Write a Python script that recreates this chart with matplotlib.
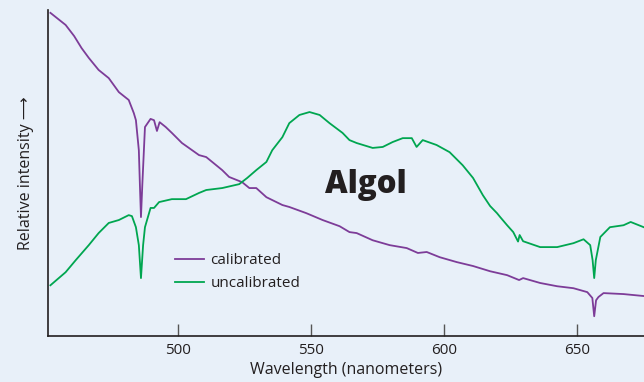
import matplotlib
matplotlib.use("Agg")
import numpy as np
import matplotlib.pyplot as plt

# --- spectrum of Algol (arbitrary intensity units) ---
calib_wl = [452.1, 457.8, 461.0, 463.8, 466.5, 470.2, 474.0, 477.8, 481.5, 483.4,
            484.2, 485.3, 485.7, 486.1, 486.6, 487.6, 489.7, 491.0, 492.1, 493.1,
            495.4, 497.7, 501.5, 504.1, 507.9, 510.6, 516.6, 519.2, 524.1, 526.8,
            529.4, 533.2, 539.2, 541.8, 548.2, 554.3, 560.7, 564.4, 567.1, 573.1,
            579.5, 585.9, 590.1, 593.4, 598.3, 604.7, 610.8, 617.2, 623.6, 628.1,
            629.6, 636.0, 642.4, 648.5, 653.7, 655.6, 656.3, 657.0, 657.9, 659.8,
            667.3, 674.9]
calib_val = [99.1, 95.4, 92.0, 88.3, 85.3, 81.6, 79.1, 74.8, 72.4, 68.4,
             66.2, 57.0, 46.3, 36.5, 46.3, 64.1, 66.6, 66.2, 62.9, 65.6,
             64.1, 62.3, 59.2, 57.7, 55.5, 54.9, 50.9, 48.8, 47.2, 45.4,
             45.4, 42.6, 40.2, 39.6, 37.7, 35.6, 33.7, 31.9, 31.6, 29.4,
             27.9, 27.0, 25.5, 25.8, 24.2, 22.7, 21.5, 19.9, 18.7, 17.2,
             17.8, 16.3, 15.3, 14.7, 13.5, 11.7, 6.1, 11.0, 12.0, 13.2,
             12.9, 12.3]

uncal_wl = [452.1, 457.8, 461.6, 466.5, 470.2, 474.0, 477.8, 481.5, 482.7, 484.2,
            485.3, 486.1, 486.9, 487.6, 489.7, 491.0, 492.9, 497.7, 503.0, 507.9,
            510.6, 516.6, 523.0, 526.0, 529.4, 533.2, 535.4, 539.2, 541.8, 545.6,
            549.4, 553.2, 556.9, 561.8, 564.4, 567.1, 573.1, 576.9, 580.6, 584.4,
            587.8, 589.6, 591.9, 597.1, 602.0, 606.9, 610.8, 614.5, 617.2, 619.8,
            621.0, 623.6, 625.9, 627.7, 628.3, 629.6, 636.0, 642.4, 648.5, 652.3,
            654.8, 655.7, 656.3, 656.9, 658.6, 662.2, 667.3, 670.0, 674.9]
uncal_val = [15.6, 19.6, 23.3, 27.9, 31.6, 34.7, 35.6, 37.1, 36.8, 33.4,
             27.9, 17.8, 27.9, 33.4, 39.3, 39.3, 41.1, 42.0, 42.0, 43.9,
             44.8, 45.4, 46.6, 48.5, 50.9, 53.4, 57.0, 61.0, 65.3, 67.8,
             68.7, 67.8, 65.3, 62.3, 60.1, 59.2, 57.7, 58.0, 59.5, 60.7,
             60.7, 58.0, 60.1, 58.6, 56.4, 52.4, 48.5, 43.2, 39.9, 37.7,
             36.5, 34.0, 31.9, 29.0, 31.0, 29.1, 27.3, 27.3, 28.5, 29.7,
             27.9, 23.3, 17.8, 23.3, 30.4, 33.4, 34.0, 35.0, 33.4]

xticks = [500, 550, 600, 650]

bg = "#e8f0f9"
ink = "#231f20"
purple = "#7d3c98"
green = "#00a650"

plt.rcParams["font.family"] = ["Open Sans", "DejaVu Sans"]

fig = plt.figure(figsize=(6.44, 3.82), dpi=100, facecolor=bg)
ax = fig.add_axes([0.075, 0.12, 0.925, 0.854], facecolor=bg)

ax.plot(calib_wl, calib_val, color=purple, lw=1.3, label="calibrated")
ax.plot(uncal_wl, uncal_val, color=green, lw=1.3, label="uncalibrated")

ax.set_xlim(451.3, 675)
ax.set_ylim(0, 100)
ax.set_xticks(xticks)
ax.set_yticks([])
ax.tick_params(axis="x", direction="in", length=9, width=1.0, color="#555555",
               pad=5, labelsize=11, labelcolor=ink)

for s in ["top", "right"]:
    ax.spines[s].set_visible(False)
for s in ["left", "bottom"]:
    ax.spines[s].set_color(ink)
    ax.spines[s].set_linewidth(1.2)

ax.set_xlabel("Wavelength (nanometers)", fontsize=11.5, color=ink, labelpad=3)
ax.set_ylabel("Relative intensity \u27f6", fontsize=11.5, color=ink, labelpad=10)

ax.text(570.5, 46.3, "Algol", fontsize=22.5, fontweight="heavy", color=ink,
        ha="center", va="center")

ax.legend(loc="upper left", bbox_to_anchor=(0.212, 0.255), frameon=False,
          fontsize=11, handlelength=1.9, handletextpad=0.45, labelspacing=0.55,
          borderpad=0, borderaxespad=0, labelcolor=ink)

fig.savefig("out.png", dpi=100, facecolor=bg)
